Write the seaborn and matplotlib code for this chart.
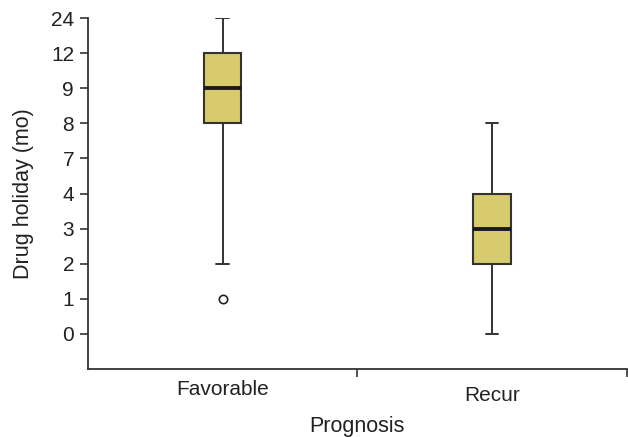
import numpy as np
import pandas as pd
import matplotlib
matplotlib.use("Agg")
import matplotlib.pyplot as plt
import matplotlib.transforms as mtransforms
import seaborn as sns

# Ordinal y-axis levels (equally spaced on the chart)
y_levels = [0, 1, 2, 3, 4, 7, 8, 9, 12, 24]
categories = ["Favorable", "Recur"]
favorable_vals = [1, 2, 8, 8, 8, 9, 9, 12, 12, 12, 24]
recur_vals = [0, 2, 2, 2, 3, 3, 4, 4, 4, 8]

rank = {v: i for i, v in enumerate(y_levels)}
df = pd.DataFrame({
    "Prognosis": ["Favorable"] * len(favorable_vals) + ["Recur"] * len(recur_vals),
    "value": favorable_vals + recur_vals,
})
df["pos"] = df["value"].map(rank)

sns.set_style("white")
plt.rcParams["font.family"] = ["Liberation Sans", "DejaVu Sans"]

fig = plt.figure(figsize=(6.28, 4.37), dpi=100)
ax = fig.add_axes([0.140, 0.1556, 0.858, 0.8032])

edge = "#333333"
sns.boxplot(data=df, x="Prognosis", y="pos", order=categories, ax=ax,
            color="#D8CB6E", saturation=1, width=0.14, whis=2.25,
            linewidth=1.5, linecolor=edge,
            boxprops=dict(edgecolor=edge, linewidth=1.5),
            medianprops=dict(color="#1a1a1a", linewidth=2.8),
            whiskerprops=dict(color=edge, linewidth=1.4),
            capprops=dict(color=edge, linewidth=1.4),
            flierprops=dict(marker="o", markersize=6, markerfacecolor="white",
                            markeredgecolor="#222222", markeredgewidth=1.2))

# shorten caps
for line in ax.lines:
    xd = np.asarray(line.get_xdata(), dtype=float)
    yd = np.asarray(line.get_ydata(), dtype=float)
    if len(xd) == 2 and yd[0] == yd[1] and xd[0] != xd[1]:
        c = xd.mean()
        half = abs(xd[1] - xd[0]) / 2
        if half < 0.06:
            line.set_xdata([c - 0.023, c + 0.023])

ax.set_ylim(-1, 9)
ax.set_xlim(-0.5, 1.5)
ax.set_yticks(range(len(y_levels)))
ax.set_yticklabels([str(v) for v in y_levels])
ax.set_xticks([0, 1])
ax.set_xticklabels(categories)
ax.set_xticks([0.5, 1.5], minor=True)

ax.tick_params(axis="y", which="major", direction="out", length=6, width=1.2,
               color=edge, labelsize=15, labelcolor="#222222", left=True, pad=4)
ax.tick_params(axis="x", which="major", length=0, labelsize=15,
               labelcolor="#222222", pad=8)
ax.tick_params(axis="x", which="minor", direction="out", length=6, width=1.2,
               color=edge, bottom=True)

# the second category label sits slightly lower in the reference
lbl = ax.get_xticklabels()[1]
lbl.set_transform(lbl.get_transform() +
                  mtransforms.ScaledTranslation(0, -6 / 100, fig.dpi_scale_trans))

for s in ["top", "right"]:
    ax.spines[s].set_visible(False)
for s in ["left", "bottom"]:
    ax.spines[s].set_color(edge)
    ax.spines[s].set_linewidth(1.3)

ax.set_xlabel("Prognosis", fontsize=15.5, color="#222222")
ax.xaxis.set_label_coords(0.5, -0.135)
ax.set_ylabel("Drug holiday (mo)", fontsize=15.5, color="#222222", labelpad=12)

fig.savefig("out.png", dpi=100, facecolor="white")
